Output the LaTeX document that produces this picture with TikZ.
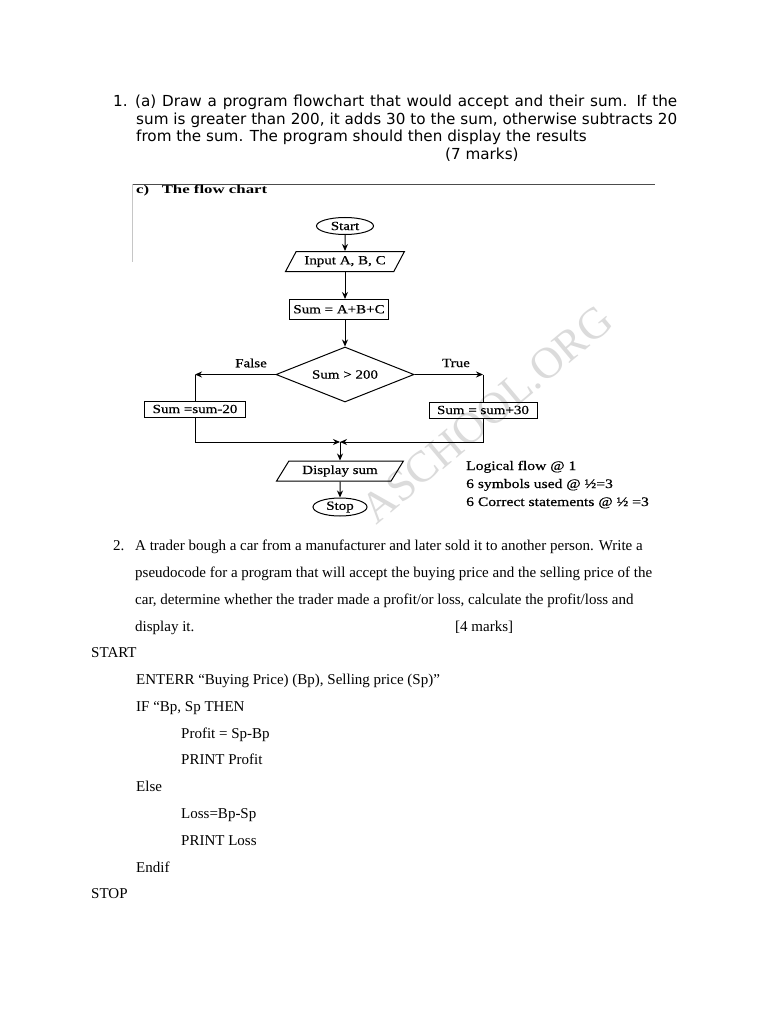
\documentclass[tikz,border=0pt]{standalone}
\usepackage{fontspec}
\setmainfont{Liberation Serif}
\newfontfamily\qsans{DejaVu Sans}
\newfontfamily\chartfont[FakeStretch=1.2,FakeBold=0.5]{Liberation Serif}
\newfontfamily\headfont[FakeStretch=1.4]{Liberation Serif}
\newcommand{\chartsize}{\chartfont\fontsize{12.5}{14}\selectfont}
\usetikzlibrary{arrows.meta,positioning,shapes.geometric}
\tikzset{
    term/.style={ellipse,draw,line width=1pt,minimum width=57pt,minimum height=17pt,inner sep=0pt,font=\chartsize},
    io/.style={trapezium,trapezium left angle=55,trapezium right angle=125,trapezium stretches=true,draw,line width=1pt,minimum height=20pt,inner sep=1pt,font=\chartsize},
    proc/.style={rectangle,draw,line width=1pt,minimum height=16pt,inner xsep=4pt,inner ysep=1pt,font=\chartsize},
    decide/.style={diamond,draw,line width=1pt,aspect=2.5,minimum width=138pt,minimum height=55pt,inner sep=0pt,font=\chartsize},
    lbl/.style={inner sep=0pt,font=\chartsize},
    note/.style={anchor=base west,inner sep=0pt,font=\chartfont\fontsize{13}{15}\selectfont},
    qtxt/.style={anchor=base west,inner sep=0pt,font=\qsans\fontsize{15.2}{18}\selectfont},
    stxt/.style={anchor=base west,inner sep=0pt,font=\fontsize{15}{18}\selectfont},
    stamp/.style={inner sep=0pt,rotate=40,text=gray!28,font=\fontsize{44}{44}\selectfont},
    line/.style={line width=1pt},
    arrow/.style={-{Stealth[length=7pt,width=6pt]},line width=1pt}
}

\begin{document}
\begin{tikzpicture}[x=1pt,y=-1pt]
    \fill[white] (0,0) rectangle (768,1024);
    \useasboundingbox (0,0) rectangle (768,1024);

    % question 1
    \node[qtxt] (n1) at (113,106.5) {1.};
    \node[qtxt] (q1a) at (135,106.5) {\makebox[542pt][s]{(a) Draw a program flowchart that would accept and their sum. If the}};
    \node[qtxt] (q1b) at (136,124.3) {\makebox[541pt][s]{sum is greater than 200, it adds 30 to the sum, otherwise subtracts 20}};
    \node[qtxt] (q1c) at (136,141.8) {from the sum. The program should then display the results};
    \node[qtxt] (q1d) at (445,160) {(7 marks)};

    % scanned answer
    \draw[black!70,line width=1pt] (132,184.5) -- (655,184.5);
    \draw[gray!45,line width=1pt] (132,184.5) -- (132,262);
    \node[anchor=base west,inner sep=0pt,font=\headfont\bfseries\fontsize{12}{14}\selectfont] (head) at (136,193.5) {c)\hspace{12.5pt}The flow chart};
    \node[stamp] (wm) at (487,414) {ASCHOOL.ORG};

    \node[term] (start) at (345,226) {Start};
    \node[io,below=16pt of start,minimum width=119pt] (input) {Input A, B, C};
    \node[proc,below=27pt of input,xshift=-6pt,minimum width=94pt,minimum height=19.5pt] (sum) {Sum = A+B+C};
    \node[decide,below=27pt of sum,xshift=6pt] (test) {Sum > 200};
    \node[lbl] (false) at (251,363) {False};
    \node[lbl] (true) at (456,363) {True};
    \node[proc,minimum width=101pt] (minus) at (195,409) {Sum =sum-20};
    \node[proc,minimum width=108pt] (plus) at (483,410) {Sum = sum+30};
    \coordinate (lcorner) at (test.west -| minus);
    \coordinate (rcorner) at (test.east -| plus);
    \coordinate (join) at (340,442);
    \node[io,minimum width=127pt] (show) at (340,471) {Display sum};
    \node[term,below=16pt of show,minimum width=54pt,minimum height=18pt] (stop) {Stop};

    \draw[arrow] (start)--(input);
    \draw[arrow] (input.south)--(input.south |- sum.north);
    \draw[arrow] (sum.south -| test)--(test.north);
    \draw[arrow] (test.west)--(lcorner);
    \draw[line] (lcorner)--(minus);
    \draw[arrow] (test.east)--(rcorner);
    \draw[line] (rcorner)--(plus);
    \draw[arrow] (minus.south) |- (join);
    \draw[arrow] (plus.south) |- (join);
    \draw[arrow] (join)--(show);
    \draw[arrow] (show)--(stop);

    \node[note] (m1) at (466,470) {Logical flow @ 1};
    \node[note] (m2) at (466,488) {6 symbols used @ ½=3};
    \node[note] (m3) at (466,506) {6 Correct statements @ ½ =3};

    % question 2
    \node[stxt] (n2) at (113,550.7) {2.};
    \node[stxt] (q2a) at (135,550.7) {A trader bough a car from a manufacturer and later sold it to another person.  Write a};
    \node[stxt] (q2b) at (135,577.5) {pseudocode for a program that will accept the buying price and the selling price of the};
    \node[stxt] (q2c) at (135,604.2) {car, determine whether the trader made a profit/or loss, calculate the profit/loss and};
    \node[stxt] (q2d) at (135,631) {display it.};
    \node[stxt] (q2e) at (455,631) {[4 marks]};

    % pseudocode
    \node[stxt] (p1) at (91,657.7) {START};
    \node[stxt] (p2) at (136,684.5) {ENTERR “Buying Price) (Bp), Selling price (Sp)”};
    \node[stxt] (p3) at (136,711.3) {IF “Bp, Sp THEN};
    \node[stxt] (p4) at (181,738) {Profit = Sp-Bp};
    \node[stxt] (p5) at (181,764.8) {PRINT Profit};
    \node[stxt] (p6) at (136,791.6) {Else};
    \node[stxt] (p7) at (181,818.4) {Loss=Bp-Sp};
    \node[stxt] (p8) at (181,845.2) {PRINT Loss};
    \node[stxt] (p9) at (136,872) {Endif};
    \node[stxt] (p10) at (91,898.8) {STOP};
\end{tikzpicture}
\end{document}
